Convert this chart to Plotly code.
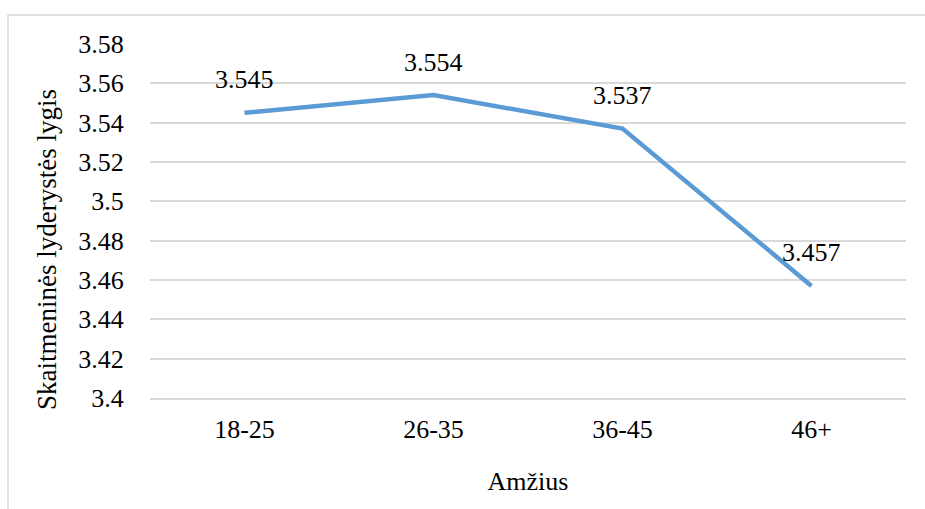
import plotly.graph_objects as go

# Age groups and the mean digital-leadership level for each
age_groups = ["18-25", "26-35", "36-45", "46+"]
levels = [3.545, 3.554, 3.537, 3.457]
value_labels = ["3.545", "3.554", "3.537", "3.457"]

y_ticks = [3.40, 3.42, 3.44, 3.46, 3.48, 3.50, 3.52, 3.54, 3.56, 3.58]
y_tick_text = ["3.4", "3.42", "3.44", "3.46", "3.48", "3.5", "3.52", "3.54", "3.56", "3.58"]

W, H = 925, 509
ML, MR, MT, MB = 150, 19, 44, 111
FONT = "Liberation Serif"
FS = 26
GRID = "#d9d9d9"
pw, ph = W - ML - MR, H - MT - MB


def px_x(x):
    """Canvas pixel column -> paper x."""
    return (x - ML) / pw


def px_y(y):
    """Canvas pixel row -> paper y."""
    return (H - MB - y) / ph


fig = go.Figure()
fig.add_trace(go.Scatter(
    x=age_groups, y=levels, mode="lines",
    line=dict(color="#5B9BD5", width=4.5),
    hoverinfo="x+y", showlegend=False,
))

# value labels above each point
for cat, val, txt in zip(age_groups, levels, value_labels):
    fig.add_annotation(x=cat, y=val, text=txt, showarrow=False,
                       xanchor="center", yanchor="middle", yshift=33,
                       font=dict(family=FONT, size=FS, color="#000000"))

# vertical axis title, placed a little below the plot's middle
fig.add_annotation(xref="paper", yref="paper", x=px_x(47), y=px_y(250),
                   text="Skaitmeninės lyderystės lygis", textangle=-90,
                   showarrow=False, xanchor="center", yanchor="middle",
                   font=dict(family=FONT, size=27, color="#000000"))

# outer chart frame (only top and left edges fall inside the canvas)
fig.add_shape(type="rect", xref="paper", yref="paper",
              x0=px_x(8), x1=px_x(W + 10), y0=px_y(H + 10), y1=px_y(15),
              line=dict(color=GRID, width=1.5), fillcolor="rgba(0,0,0,0)")

fig.update_layout(
    width=W, height=H,
    margin=dict(l=ML, r=MR, t=MT, b=MB, autoexpand=False),
    paper_bgcolor="white", plot_bgcolor="white",
    font=dict(family=FONT, size=FS, color="#000000"),
    xaxis=dict(
        type="category", range=[-0.5, 3.5],
        showgrid=False, showline=True, linecolor=GRID, linewidth=1.5,
        ticks="outside", ticklen=7, tickcolor="rgba(0,0,0,0)",
        tickfont=dict(family=FONT, size=FS, color="#000000"),
        title=dict(text="Amžius", font=dict(family=FONT, size=FS, color="#000000"), standoff=29),
        automargin=False, fixedrange=True,
    ),
    yaxis=dict(
        range=[3.4, 3.58], tickvals=y_ticks, ticktext=y_tick_text,
        showgrid=True, gridcolor=GRID, gridwidth=1.5, zeroline=False,
        ticks="outside", ticklen=20, tickcolor="rgba(0,0,0,0)",
        tickfont=dict(family=FONT, size=FS, color="#000000"),
        automargin=False, fixedrange=True,
    ),
)

fig.write_html("out.html")
